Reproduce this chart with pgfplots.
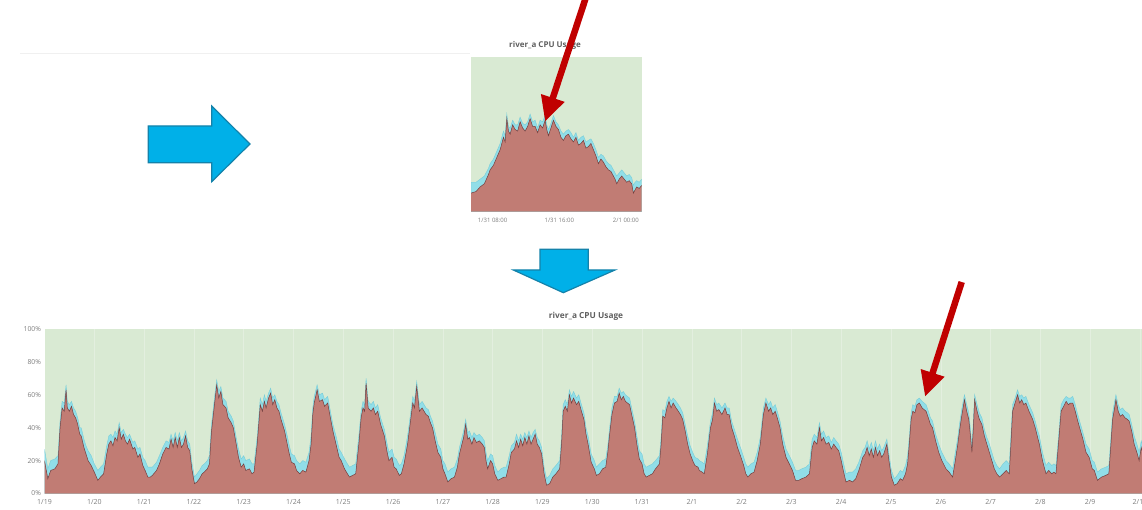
\documentclass[border=0pt]{standalone}
\usepackage{pgfplots}
\pgfplotsset{compat=1.18}
\usepackage{pgfplotstable}
\usepackage{fontspec}
\setmainfont{Open Sans}
\usetikzlibrary{arrows.meta}
\definecolor{bggreen}{RGB}{217,234,211}
\definecolor{areared}{RGB}{193,124,116}
\definecolor{areacyan}{RGB}{145,222,232}
\definecolor{edgered}{RGB}{115,62,62}
\definecolor{edgecyan}{RGB}{120,205,215}
\definecolor{arrowred}{RGB}{192,0,0}
\definecolor{arrowblue}{RGB}{0,176,232}
\definecolor{arrowblueedge}{RGB}{20,130,170}
\definecolor{labelgray}{RGB}{125,125,125}
\definecolor{titlegray}{RGB}{95,95,95}

\pgfplotstableread{
h r c
0 20 7
1.6 9 6
3 14 6
5 15 6
6.5 18 5
7.5 40 4
8.5 52 4
9.5 50 5
10.4 63 3
11 52 4
12 50 4
13 53 3
14 48 4
15 46 4
16 42 4
17 36 4
17.7 35 5
19 28 5
20 24 5
21 20 6
22.5 17 6
24 13 5
25.7 8 6
27 10 6
28.5 12 6
30 24 5
31 30 5
32 32 4
33 29 5
34 34 4
35 32 4
36 40 3
37 33 4
38 36 3
39 32 4
40 30 4
41 33 3
42.6 27 4
43.5 28 4
45 22 5
46 24 4
47.4 17 5
48.5 14 6
49.8 10 6
51 10 6
52 11 5
54 14 5
55.4 18 5
57 24 4
58.6 28 4
60 27 4
61 33 3
62 28 4
63 34 3
64 28 4
65 34 3
66 28 4
67 30 4
68 35 3
69 28 4
70 26 4
71 15 4
72.3 6 4
73.5 7 5
74.7 9 5
76 12 5
77 13 5
78.5 15 5
79.5 18 5
80.5 38 4
82 55 4
83 66 3
84 58 4
85 62 3
86 54 4
87.5 52 4
88.5 46 4
90 43 4
91 40 4
92.4 30 4
93.5 22 5
94.8 16 5
96 18 5
97 14 6
98.8 15 6
100 12 6
101 13 5
102.5 30 4
104 54 4
105 50 4
106 56 4
106.8 52 4
108 58 3
109 61 3
110 54 4
111 57 3
112 52 4
113 50 4
114 45 4
115.7 38 4
117 30 5
118 24 5
119 19 5
120.5 18 5
121.5 14 6
123 12 6
124.5 14 6
126 13 6
127.5 20 5
128.5 30 5
129.3 48 4
130 55 4
131.4 63 3
132.5 56 4
134 57 4
135 53 4
136.5 55 4
137.5 48 4
139 38 4
140.5 30 5
142 22 5
143 20 5
144.6 15 6
146 12 6
147 10 6
148.5 11 6
150 12 6
151.5 30 5
152.6 46 4
153.5 52 4
154.3 50 4
155 67 3
156 52 4
157.4 50 4
158.5 52 4
159.5 48 4
160.6 50 4
162 42 4
163.8 35 4
165 26 5
166 20 5
167.5 22 5
168.5 16 6
169.5 15 6
171 11 6
172 12 6
173.3 18 5
175 30 5
176.5 45 4
177.5 55 4
178.3 52 4
179.4 65 3
180.7 50 4
182 52 4
183.9 48 4
185 47 4
186 43 4
187 40 4
188.3 32 5
189.6 25 5
191 22 5
192 15 5
193 12 6
194.4 7 6
196 9 6
197.6 10 6
199 16 5
200 24 4
200.8 28 4
202 34 4
203 42 3
204 33 4
204.8 34 4
206 30 4
207 34 3
208.2 31 4
209.6 32 4
211 30 4
212 28 4
212.8 20 5
213.6 15 5
215 20 4
216 18 5
217 12 5
218.5 8 5
220 9 6
221.5 10 6
222.5 10 6
224 18 5
225 25 4
226.5 27 4
227.5 32 4
228.5 28 4
229.5 33 3
230.5 29 4
231.5 34 3
232.5 30 4
233.5 35 3
234.5 30 4
235.5 33 4
236.5 36 3
237.5 30 4
238.5 28 4
239.6 24 4
240.8 12 4
242 5 4
243.5 6 5
245 10 5
246.5 12 5
248.3 15 5
249.2 30 4
250 50 4
251 53 4
252 50 4
253 60 3
254 55 4
255 58 4
256.4 54 4
257.5 56 4
258.8 50 4
260 45 4
261 36 4
262 30 5
263.5 19 5
265 15 5
266 11 5
267.5 12 6
269 15 5
270.5 16 5
271.5 25 4
272.3 35 4
273.5 48 4
274.7 55 4
276 56 3
277 61 3
278 57 4
279 59 3
280 56 4
281 55 4
282 54 4
283 48 4
284.4 40 4
285.5 30 5
286.7 21 5
288 18 6
289 12 6
290 10 6
291.5 11 6
293 12 6
294.5 15 5
296.4 18 5
297.2 30 4
298 47 4
299 46 4
300 52 4
301 56 3
302 52 4
303 55 3
304.4 52 4
305.5 50 4
306.5 48 4
307.6 45 4
308.8 38 4
310 30 5
311.2 24 5
312.4 20 5
313.5 17 5
315 16 5
315.6 14 6
317 13 6
318 12 6
319.5 24 5
321 40 4
322 45 4
322.9 55 3
324 50 4
325 51 4
326.5 48 4
328 52 3
329 48 4
330 48 4
331.2 40 4
332.5 35 4
334 28 5
335.7 22 5
337 17 5
338 12 6
339 10 6
340.5 12 6
342 13 6
343.5 20 5
345 30 4
346.5 48 4
347.7 55 3
349 50 4
350 52 4
351 48 4
352.2 50 4
353.4 45 4
354.5 40 4
355.8 30 5
357.4 22 5
359 18 5
360.5 14 5
362 8 6
363.5 8 6
365 9 6
367 10 6
368.7 12 6
370 28 5
371 32 4
372.3 30 4
373.5 40 3
374.5 32 4
375.5 34 4
376.7 30 4
378 31 4
379.2 27 4
380.4 30 4
381.5 28 4
382.8 26 4
384 20 5
385 14 5
386.3 7 5
388 8 5
389.5 7 6
391 9 6
392.5 14 5
394.4 22 4
395.5 24 4
396.5 28 4
397.5 23 4
398.5 27 4
399.5 22 4
400.5 28 4
401.5 23 4
402.5 26 4
403.5 22 4
404.5 24 4
406 30 3
407 20 4
408.2 10 4
409.6 5 4
411 6 5
412.5 9 5
413.6 8 5
415 12 5
416 18 5
416.8 30 4
417.7 45 4
418.5 50 4
419.5 49 4
420.5 54 3
421.7 55 3
423 52 4
424.9 50 4
426 46 4
427 42 4
428 40 4
429.5 32 4
431 25 5
432.5 20 5
434.5 15 5
436 13 5
437.7 10 5
439 20 5
440.2 30 4
441 38 4
442.2 48 4
443.4 57 3
444.5 50 4
445.5 45 4
446.3 35 4
447 25 4
447.7 40 4
448.3 57 3
449.5 50 4
450.6 45 4
451.8 42 4
453 35 4
454.2 30 4
455.4 25 5
456.6 20 5
457.8 15 5
459 12 5
460.3 10 5
462 12 6
463.5 14 6
465 12 6
465.8 30 5
466.6 50 4
467.8 55 3
469 60 3
470 55 4
471 57 3
472 54 4
473 55 4
474.5 50 4
476.3 45 4
477.5 40 4
478.5 35 4
479.5 30 5
481 20 5
482.7 12 5
484 14 5
485.5 12 5
486.5 13 5
487.5 12 5
488.7 30 4
490 50 4
491.2 53 4
492.4 56 3
493.5 54 4
494.5 55 3
495.6 55 4
496.8 50 4
497.8 45 4
498.9 40 4
500.5 33 4
502 25 5
503.5 22 5
505 15 5
506 14 5
507.5 8 5
509.5 10 5
511.5 11 5
513 12 5
514 30 4
514.8 45 4
515.5 50 4
516.4 57 3
517.5 50 4
518.5 47 4
519.6 48 4
520.8 46 4
522 45 4
522.8 44 4
524 38 4
525.2 30 5
526.5 25 5
527.6 20 5
528.6 28 4
529 26 4
}\maindata

\pgfplotstableread{
h r c
5.4 12 7
6 13 6
6.5 16 5
7 18 5
7.5 24 4
7.7 27 4
8.1 30 4
8.5 35 4
8.9 40 4
9.3 48 4
9.5 45 4
9.7 60 3
9.9 52 3
10.1 50 4
10.4 56 3
10.7 53 3
11 52 4
11.3 58 3
11.6 54 3
11.9 52 4
12.2 55 3
12.5 60 3
12.8 55 3
13.1 55 4
13.4 51 3
13.7 56 3
14 54 4
14.3 59 3
14.5 53 3
14.7 49 4
15 54 3
15.3 59 3
15.6 55 3
15.9 53 3
16.2 48 4
16.5 46 4
16.8 49 3
17.1 50 3
17.4 47 4
17.7 45 3
18 48 3
18.3 43 3
18.6 44 4
18.9 46 3
19.2 41 4
19.5 42 4
19.8 44 3
20.1 40 4
20.4 36 4
20.7 31 4
21 34 3
21.3 32 4
21.6 29 4
21.9 27 4
22.2 26 4
22.5 23 4
22.7 21 4
22.9 18 5
23.2 21 4
23.5 23 4
23.8 21 4
24.1 19 4
24.4 20 4
24.7 18 4
24.9 12 5
25.1 14 5
25.3 16 4
25.6 15 4
25.9 17 4
}\insetdata

\pgfplotsset{cpu/.style={
  scale only axis,
  axis background/.style={fill=bggreen},
  axis line style={draw=none},
  major tick length=0pt,
  ymin=0, ymax=100,
  tick label style={text=labelgray},
}}

\begin{document}
\begin{tikzpicture}
% main chart
\begin{axis}[cpu,
  at={(44.5pt,15.5pt)}, anchor=south west,
  width=1097.5pt, height=164.5pt,
  xmin=0, xmax=529,
  xtick={0,24,...,528},
  xticklabels={1/19,1/20,1/21,1/22,1/23,1/24,1/25,1/26,1/27,1/28,1/29,1/30,1/31,2/1,2/2,2/3,2/4,2/5,2/6,2/7,2/8,2/9,2/10},
  ytick={0,20,40,60,80,100},
  yticklabels={0\%,20\%,40\%,60\%,80\%,100\%},
  xticklabel style={font=\fontsize{7}{8}\selectfont, yshift=-2pt},
  yticklabel style={font=\fontsize{6.8}{8}\selectfont},
  xmajorgrids, grid style={white, opacity=0.28, line width=0.5pt},
]
\addplot[fill=areacyan, draw=edgecyan, line width=0.4pt] table[x=h, y expr=\thisrow{r}+\thisrow{c}] {\maindata} \closedcycle;
\addplot[fill=areared, draw=none] table[x=h, y=r] {\maindata} \closedcycle;
\addplot[draw=edgered, line width=0.5pt] table[x=h, y=r] {\maindata};
\end{axis}

% inset chart
\begin{axis}[cpu,
  at={(471pt,297.3pt)}, anchor=south west,
  width=170.7pt, height=155pt,
  xmin=5.4, xmax=25.9,
  xtick={8,16,24},
  xticklabels={1/31 08:00,1/31 16:00,2/1 00:00},
  ytick=\empty,
  xticklabel style={font=\fontsize{6}{7}\selectfont, yshift=-3pt},
]
\addplot[fill=areacyan, draw=edgecyan, line width=0.4pt] table[x=h, y expr=\thisrow{r}+\thisrow{c}] {\insetdata} \closedcycle;
\addplot[fill=areared, draw=none] table[x=h, y=r] {\insetdata} \closedcycle;
\addplot[draw=edgered, line width=0.5pt] table[x=h, y=r] {\insetdata};
\end{axis}

\begin{scope}[x=1pt,y=1pt]
% faint slide line
\draw[black!6, line width=0.8pt] (20,455.7) -- (470,455.7);
\node[font=\bfseries\fontsize{8.3}{10}\selectfont, text=titlegray] at (586,192.3) {river\_a CPU Usage};
\node[font=\bfseries\fontsize{8}{10}\selectfont, text=titlegray] at (545,463.3) {river\_a CPU Usage};

% blue arrows
\filldraw[fill=arrowblue, draw=arrowblueedge, line width=1.2pt, line join=miter]
  (148.3,383) -- (211.7,383) -- (211.7,403) -- (250,365) -- (211.7,327.3) -- (211.7,346.3) -- (148.3,346.3) -- cycle;
\filldraw[fill=arrowblue, draw=arrowblueedge, line width=1.2pt, line join=miter]
  (540,259.7) -- (588.3,259.7) -- (588.3,239) -- (615,239) -- (563.3,216.3) -- (513.3,239) -- (540,239) -- cycle;

% red arrows
\draw[arrowred, line width=6.5pt, -{Triangle[length=25pt,width=23pt]}] (586.7,514) -- (545,387.3);
\draw[arrowred, line width=6.5pt, -{Triangle[length=25pt,width=23pt]}] (961.7,227) -- (925,112.3);
\end{scope}

\pgfresetboundingbox
\path (0pt,0pt) rectangle (1142pt,509pt);
\end{tikzpicture}
\end{document}
